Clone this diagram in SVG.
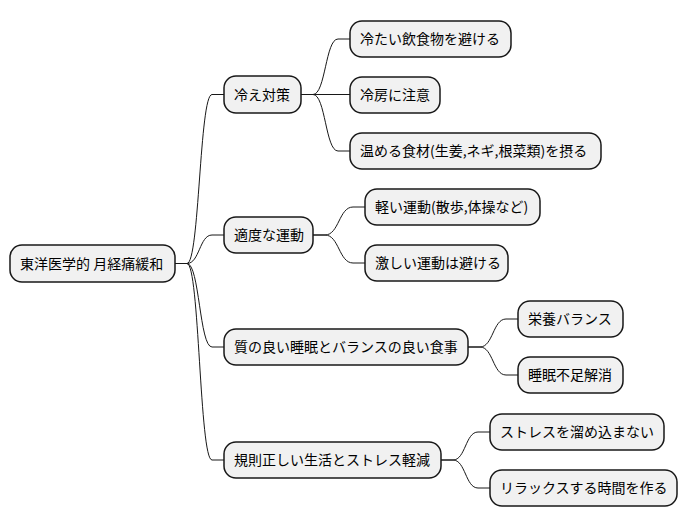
<svg xmlns="http://www.w3.org/2000/svg" width="689" height="527" viewBox="0 0 689 527">
<style>
.n rect{fill:#F1F1F1;stroke:#181818;stroke-width:1.5}
.n text{font-family:"Noto Sans CJK JP","Noto Sans",sans-serif;font-size:14px;fill:#000}
#edges path{fill:none;stroke:#181818;stroke-width:1}
</style>
<rect width="689" height="527" fill="#FFFFFF"/>
<g id="edges">
<path d="M175,263.5 L187,263.5 C199.5,263.5 199.5,94.5 212,94.5 L224,94.5"/>
<path d="M175,263.5 L187,263.5 C199.5,263.5 199.5,235 212,235 L224,235"/>
<path d="M175,263.5 L187,263.5 C199.5,263.5 199.5,347 212,347 L224,347"/>
<path d="M175,263.5 L187,263.5 C199.5,263.5 199.5,460 212,460 L224,460"/>
<path d="M301,94.5 L313,94.5 C325.5,94.5 325.5,39 338,39 L350,39"/>
<path d="M301,94.5 L350,94.5"/>
<path d="M301,94.5 L313,94.5 C325.5,94.5 325.5,151 338,151 L350,151"/>
<path d="M313,235 L325,235 C339,235 339,207 353,207 L365,207"/>
<path d="M313,235 L325,235 C339,235 339,263 353,263 L365,263"/>
<path d="M468,347 L480,347 C493,347 493,319 506,319 L518,319"/>
<path d="M468,347 L480,347 C493,347 493,375 506,375 L518,375"/>
<path d="M441,460 L453,460 C465.5,460 465.5,432 478,432 L490,432"/>
<path d="M441,460 L453,460 C465.5,460 465.5,488 478,488 L490,488"/>
</g>
<g id="root" class="n"><rect x="10" y="245" width="165" height="37" rx="12"/><text x="20" y="268.5">東洋医学的 月経痛緩和</text></g>
<g id="n1" class="n"><rect x="224" y="76" width="77" height="37" rx="12"/><text x="234" y="99.5">冷え対策</text></g>
<g id="n1a" class="n"><rect x="350" y="21" width="161" height="36" rx="12"/><text x="360" y="44">冷たい飲食物を避ける</text></g>
<g id="n1b" class="n"><rect x="350" y="77" width="90" height="36" rx="12"/><text x="360" y="100">冷房に注意</text></g>
<g id="n1c" class="n"><rect x="350" y="133" width="251" height="36" rx="12"/><text x="360" y="156">温める食材(生姜,ネギ,根菜類)を摂る</text></g>
<g id="n2" class="n"><rect x="224" y="217" width="89" height="36" rx="12"/><text x="234" y="240">適度な運動</text></g>
<g id="n2a" class="n"><rect x="365" y="189" width="175" height="36" rx="12"/><text x="375" y="212">軽い運動(散歩,体操など)</text></g>
<g id="n2b" class="n"><rect x="365" y="245" width="143" height="36" rx="12"/><text x="375" y="268">激しい運動は避ける</text></g>
<g id="n3" class="n"><rect x="224" y="329" width="244" height="36" rx="12"/><text x="234" y="352">質の良い睡眠とバランスの良い食事</text></g>
<g id="n3a" class="n"><rect x="518" y="301" width="105" height="36" rx="12"/><text x="528" y="324">栄養バランス</text></g>
<g id="n3b" class="n"><rect x="518" y="357" width="105" height="36" rx="12"/><text x="528" y="380">睡眠不足解消</text></g>
<g id="n4" class="n"><rect x="224" y="442" width="217" height="36" rx="12"/><text x="234" y="465">規則正しい生活とストレス軽減</text></g>
<g id="n4a" class="n"><rect x="490" y="414" width="174" height="36" rx="12"/><text x="500" y="437">ストレスを溜め込まない</text></g>
<g id="n4b" class="n"><rect x="490" y="470" width="187" height="36" rx="12"/><text x="500" y="493">リラックスする時間を作る</text></g>
</svg>
